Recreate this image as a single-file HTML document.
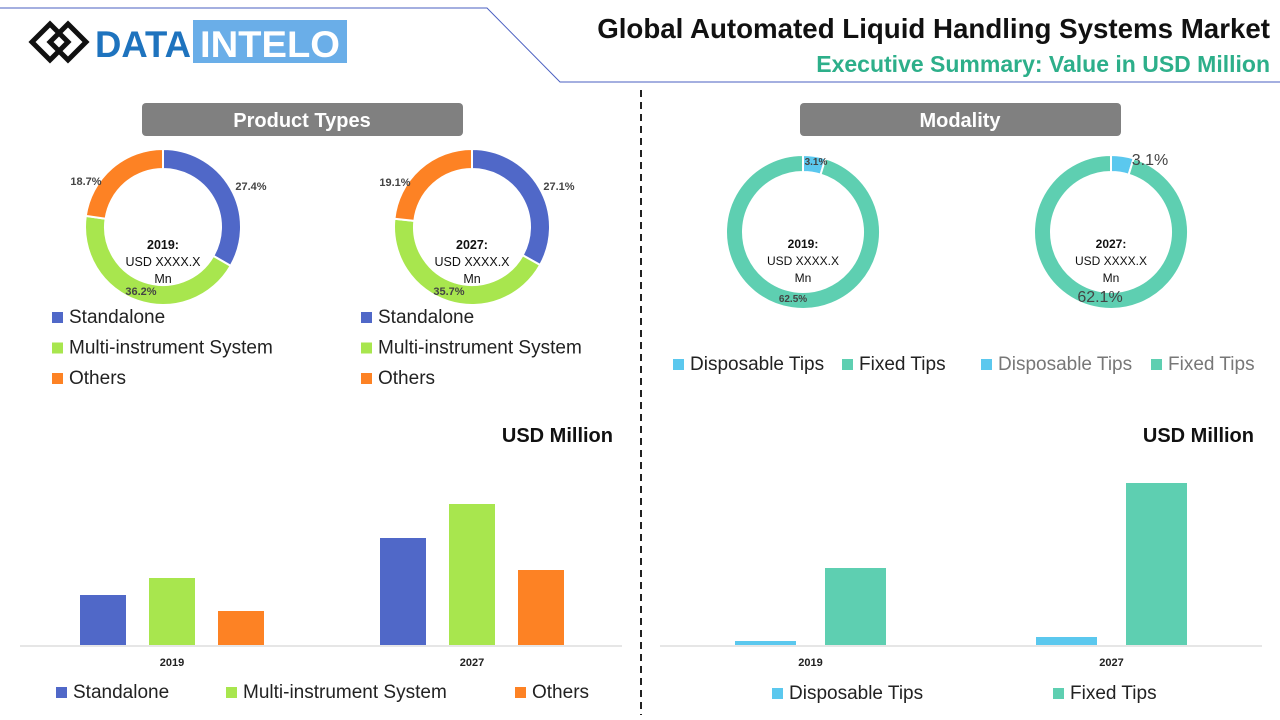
<!DOCTYPE html>
<html><head><meta charset="utf-8"><style>
body{margin:0;width:1280px;height:720px;background:#fff;font-family:"Liberation Sans",sans-serif;overflow:hidden}
svg{position:absolute;left:0;top:0}
</style></head><body>
<svg width="1280" height="720" id="s">
<g>
<polyline points="0,8 487,8 560,82 1280,82" fill="none" stroke="#4a5fc1" stroke-width="1"/>
<g fill="none" stroke="#111" stroke-width="5">
<polygon points="50,24 68,42 50,60 32,42"/><polygon points="68,24 86,42 68,60 50,42"/>
</g>
<text x="95" y="57" font-size="37" font-weight="bold" fill="#1e73be" textLength="96" lengthAdjust="spacingAndGlyphs">DATA</text>
<rect x="193" y="20" width="154" height="43" fill="#6aaee8"/>
<text x="200" y="57" font-size="37" font-weight="bold" fill="#fff" textLength="140" lengthAdjust="spacingAndGlyphs">INTELO</text>
<text x="1270" y="38" text-anchor="end" font-size="27.7" font-weight="bold" fill="#111">Global Automated Liquid Handling Systems Market</text>
<text x="1270" y="72" text-anchor="end" font-size="23" font-weight="bold" fill="#2daf8a">Executive Summary: Value in USD Million</text>
</g>
<line x1="641" y1="90" x2="641" y2="715" stroke="#222" stroke-width="2" stroke-dasharray="7,5"/>
<rect x="142" y="103" width="321" height="33" rx="4" fill="#808080"/>
<text x="302" y="127" text-anchor="middle" font-size="20" font-weight="bold" fill="#fff">Product Types</text>
<rect x="800" y="103" width="321" height="33" rx="4" fill="#808080"/>
<text x="960" y="127" text-anchor="middle" font-size="20" font-weight="bold" fill="#fff">Modality</text>
<text x="613" y="442" text-anchor="end" font-size="20" font-weight="bold" fill="#111">USD Million</text>
<text x="1254" y="442" text-anchor="end" font-size="20" font-weight="bold" fill="#111">USD Million</text>
<g id="g"></g>
</svg>
<script>
const productNames=["Standalone","Multi-instrument System","Others"];
const productColors=["#5068c8","#a8e64e","#fd8224"];
const share2019=[27.4,36.2,18.7];
const share2027=[27.1,35.7,19.1];
const modalityNames=["Disposable Tips","Fixed Tips"];
const modalityColors=["#5bc8ee","#5ecfb1"];
const modShare2019=[3.1,62.5];
const modShare2027=[3.1,62.1];
const years=["2019","2027"];
const productBars2019=[50,67,34];
const productBars2027=[107,141,75];
const modalityBars2019=[4,77];
const modalityBars2027=[8,162];

const NS="http://www.w3.org/2000/svg",G=document.getElementById('g');
function el(t,a,txt){const e=document.createElementNS(NS,t);for(const k in a)e.setAttribute(k,a[k]);if(txt!==undefined)e.textContent=txt;G.appendChild(e);return e;}
function arc(cx,cy,R,r,a0,a1){const p=(rad,a)=>[cx+rad*Math.sin(a),cy-rad*Math.cos(a)];const l=a1-a0>Math.PI?1:0;
const [x0,y0]=p(R,a0),[x1,y1]=p(R,a1),[x2,y2]=p(r,a1),[x3,y3]=p(r,a0);
return `M${x0},${y0}A${R},${R} 0 ${l} 1 ${x1},${y1}L${x2},${y2}A${r},${r} 0 ${l} 0 ${x3},${y3}Z`;}
function donut(cx,cy,R,r,vals,cols,year,labelSizes,offs,centerDy,centerFs,name){
 const tot=vals.reduce((a,b)=>a+b,0);let a=0;
 vals.forEach((v,i)=>{const a1=a+v/tot*2*Math.PI;
  const e=el('path',{d:arc(cx,cy,R,r,a,a1),fill:cols[i],stroke:'#fff','stroke-width':2});
  
  
  a=a1;});
 vals.forEach((v,i)=>{
  const t=el('text',{x:cx+offs[i][0],y:cy+offs[i][1]+4,'text-anchor':'middle','font-size':labelSizes[i],'font-weight':labelSizes[i]>12?'normal':'bold',fill:'#444'},v.toFixed(1)+'%');
  
  });
 [[year+':',centerDy,true],['USD XXXX.X',centerDy+17,false],['Mn',centerDy+34,false]].forEach(c=>{
  const t=el('text',{x:cx,y:cy+c[1],'text-anchor':'middle','font-size':centerFs,'font-weight':c[2]?'bold':'normal',fill:'#111'},c[0]);
  
  });
}
donut(163,227,78,58,share2019,productColors,'2019',[11,11,11],[[88,-41],[-22,64],[-77,-46]],22,12.5,'product-donut-2019');
donut(472,227,78,58,share2027,productColors,'2027',[11,11,11],[[87,-41],[-23,64],[-77,-45]],22,12.5,'product-donut-2027');
donut(803,232,77,60,modShare2019,modalityColors,'2019',[10,10],[[13,-71],[-10,66]],16,12,'modality-donut-2019');
donut(1111,232,77,60,modShare2027,modalityColors,'2027',[16,16],[[39,-71],[-11,66]],16,12,'modality-donut-2027');
function legendItem(x,y,col,txt,name,fs,tc){
 const r=el('rect',{x:x,y:y-11,width:11,height:11,fill:col});
 
 
 const t=el('text',{x:x+17,y:y,'font-size':fs||19,fill:tc||'#222'},txt);
 
 
}
[52,361].forEach((x,k)=>productNames.forEach((n,i)=>legendItem(x,323+i*30.5,productColors[i],n,'donut-legend-'+k+'-'+i)));
legendItem(673,370,modalityColors[0],modalityNames[0],'mod-legend-0',19);
legendItem(842,370,modalityColors[1],modalityNames[1],'mod-legend-1',19);
legendItem(981,370,modalityColors[0],modalityNames[0],'mod-legend-2',19,'#777');
legendItem(1151,370,modalityColors[1],modalityNames[1],'mod-legend-3',19,'#777');
const base=645,yScale=v=>base-v;
function bars(x0,x1,groupStarts,bw,gap,data,cols,name){
 const ax=el('line',{x1:x0,y1:base+1,x2:x1,y2:base+1,stroke:'#ccc'});
 
 
 data.forEach((vals,g)=>{vals.forEach((v,i)=>{
  const r=el('rect',{x:groupStarts[g]+i*(bw+gap),y:yScale(v),width:bw,height:base-yScale(v),fill:cols[i]});
  
  });
  const w=vals.length*bw+(vals.length-1)*gap;
  const t=el('text',{x:groupStarts[g]+w/2,y:666,'text-anchor':'middle','font-size':11,'font-weight':'bold',fill:'#222'},years[g]);
  
  });
}
bars(20,622,[80,380],46,23,[productBars2019,productBars2027],productColors,'product-bars');
bars(660,1262,[735,1036],61,29,[modalityBars2019,modalityBars2027],modalityColors,'modality-bars');
legendItem(56,698,productColors[0],productNames[0],'bar-legend-0');
legendItem(226,698,productColors[1],productNames[1],'bar-legend-1');
legendItem(515,698,productColors[2],productNames[2],'bar-legend-2');
legendItem(772,699,modalityColors[0],modalityNames[0],'bar-legend-3');
legendItem(1053,699,modalityColors[1],modalityNames[1],'bar-legend-4');
</script>
</body></html>
